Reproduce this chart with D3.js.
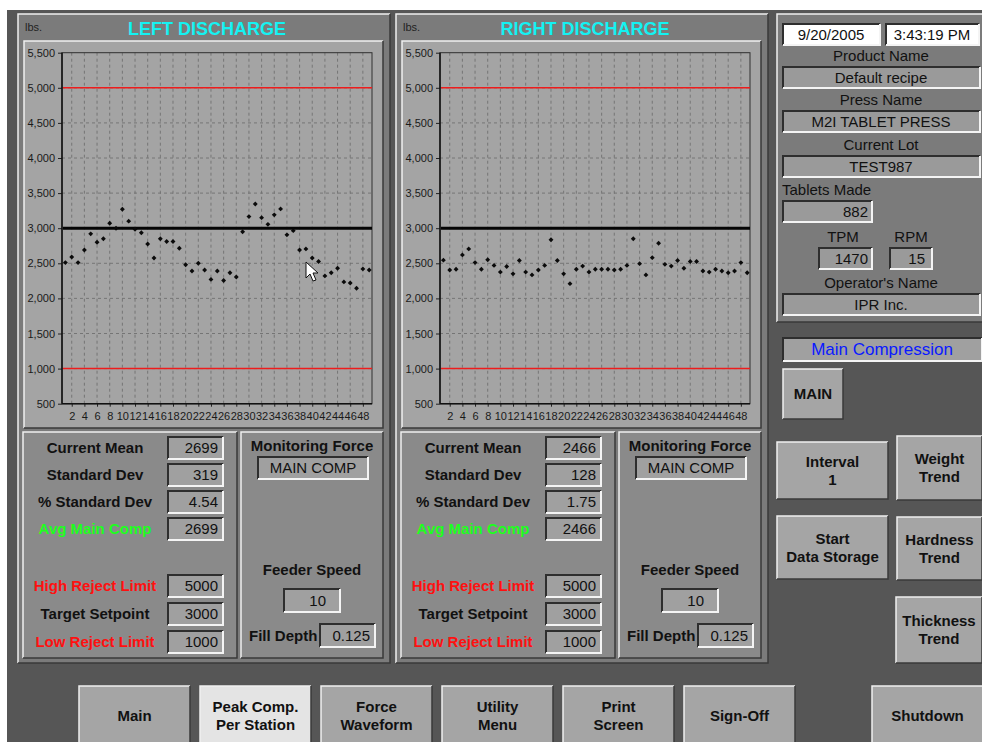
<!DOCTYPE html>
<html>
<head>
<meta charset="utf-8">
<script src="https://cdn.jsdelivr.net/npm/d3@7"></script>
<style>
  body { margin: 0; background: #ffffff; }
  svg text { font-family: "Liberation Sans", Arial, sans-serif; }
</style>
</head>
<body>
<div id="chart"></div>
<script>
// DATA
const stations = [1, 2, 3, 4, 5, 6, 7, 8, 9, 10, 11, 12, 13, 14, 15, 16, 17, 18, 19, 20,
    21, 22, 23, 24, 25, 26, 27, 28, 29, 30, 31, 32, 33, 34, 35, 36, 37, 38, 39, 40,
    41, 42, 43, 44, 45, 46, 47, 48, 49];

const leftForce = [2510, 2590, 2510, 2690, 2920, 2800, 2850, 3070, 3000, 3270,
    3100, 2985, 2935, 2775, 2575, 2850, 2810, 2810, 2715, 2480,
    2390, 2500, 2405, 2270, 2390, 2255, 2365, 2305, 2950, 3165,
    3345, 3150, 3055, 3190, 3275, 2905, 2965, 2690, 2705, 2575,
    2525, 2320, 2365, 2430, 2235, 2220, 2145, 2420, 2405];

const rightForce = [2545, 2405, 2415, 2620, 2705, 2510, 2415, 2550, 2470, 2375,
    2455, 2350, 2540, 2375, 2335, 2405, 2470, 2835, 2540, 2350,
    2210, 2415, 2460, 2375, 2415, 2415, 2415, 2405, 2415, 2470,
    2850, 2495, 2335, 2580, 2785, 2485, 2460, 2540, 2430, 2525,
    2525, 2390, 2375, 2415, 2390, 2365, 2390, 2510, 2365];

const xTickLabels = [2, 4, 6, 8, 10, 12, 14, 16, 18, 20, 22, 24, 26, 28, 30, 32, 34, 36, 38, 40, 42, 44, 46, 48];
const yTickLabels = [500, 1000, 1500, 2000, 2500, 3000, 3500, 4000, 4500, 5000, 5500];

const highReject = 5000;
const targetSetpoint = 3000;
const lowReject = 1000;

const statLabels = ["Current Mean", "Standard Dev", "% Standard Dev", "Avg Main Comp", "High Reject Limit", "Target Setpoint", "Low Reject Limit"];
const statColors = ["#111", "#111", "#111", "#1dff1d", "#ff1010", "#111", "#ff1010"];
const leftStats = ["2699", "319", "4.54", "2699", "5000", "3000", "1000"];
const rightStats = ["2466", "128", "1.75", "2466", "5000", "3000", "1000"];

const infoLabels = ["Product Name", "Press Name", "Current Lot"];
const infoValues = ["Default recipe", "M2I TABLET PRESS", "TEST987"];

const navButtons = [["Main"], ["Peak Comp.", "Per Station"], ["Force", "Waveform"], ["Utility", "Menu"], ["Print", "Screen"], ["Sign-Off"]];

// COLORS
const bgColor = '#565656';
const panelColor = '#7b7b7b';
const plotColor = '#a4a4a4';
const statPanelColor = '#8a8a8a';
const fieldColor = '#a0a0a0';
const buttonColor = '#a5a5a5';

const svg = d3.select('#chart').append('svg')
    .attr('width', 982)
    .attr('height', 742);

svg.append('rect')
    .attr('x', 7).attr('y', 10)
    .attr('width', 975).attr('height', 732)
    .attr('fill', bgColor);

// raised or sunken box
function bevel(g, x, y, w, h, fill, sunken, bw) {
    bw = bw || 2;
    const light = sunken ? '#2e2e2e' : '#f0f0f0';
    const dark = sunken ? '#f4f4f4' : '#3a3a3a';
    g.append('rect')
        .attr('x', x).attr('y', y)
        .attr('width', w).attr('height', h)
        .attr('fill', fill);
    g.append('path')
        .attr('d', `M${x},${y + h}V${y}H${x + w}`)
        .attr('fill', 'none')
        .attr('stroke', light)
        .attr('stroke-width', bw);
    g.append('path')
        .attr('d', `M${x + w},${y}V${y + h}H${x}`)
        .attr('fill', 'none')
        .attr('stroke', dark)
        .attr('stroke-width', bw);
}

function label(g, x, y, txt, size, anchor, color, weight) {
    return g.append('text')
        .attr('x', x).attr('y', y)
        .attr('text-anchor', anchor || 'middle')
        .style('font-size', size + 'px')
        .style('font-weight', weight || 'normal')
        .attr('fill', color || '#111')
        .text(txt);
}

function drawDischarge(offset, title, values, stats) {
    const g = svg.append('g').attr('transform', `translate(${offset},0)`);

    bevel(g, 18, 14, 372, 649, panelColor, false, 1.5);
    label(g, 25, 31, 'lbs.', 11, 'start', '#222');
    label(g, 207, 35, title, 18, 'middle', '#14f2f2', 'bold');

    bevel(g, 24, 41, 359, 387, plotColor, false, 1.5);

    const x = d3.scaleLinear().domain([1, 49]).range([65.4, 369.2]);
    const y = d3.scaleLinear().domain([500, 5500]).range([403.7, 52.7]);
    const plotLeft = 62, plotRight = 372;

    // grid
    g.append('g').selectAll('line.v')
        .data(xTickLabels)
        .enter().append('line')
        .attr('x1', d => x(d)).attr('x2', d => x(d))
        .attr('y1', y(5500)).attr('y2', y(500))
        .attr('stroke', '#6a6a6a')
        .attr('stroke-width', 0.8)
        .attr('stroke-dasharray', '3,3');

    g.append('g').selectAll('line.h')
        .data(yTickLabels.slice(1, -1))
        .enter().append('line')
        .attr('x1', plotLeft).attr('x2', plotRight)
        .attr('y1', d => y(d)).attr('y2', d => y(d))
        .attr('stroke', '#6a6a6a')
        .attr('stroke-width', 0.8)
        .attr('stroke-dasharray', '3,3');

    // frame
    g.append('rect')
        .attr('x', plotLeft).attr('y', y(5500))
        .attr('width', plotRight - plotLeft).attr('height', y(500) - y(5500))
        .attr('fill', 'none')
        .attr('stroke', '#303030')
        .attr('stroke-width', 1);

    // axes
    const yAxis = g.append('g')
        .attr('transform', `translate(${plotLeft},0)`)
        .call(d3.axisLeft(y).tickValues(yTickLabels).tickFormat(d3.format(',')).tickSize(4).tickSizeOuter(0));
    const xAxis = g.append('g')
        .attr('transform', `translate(0,${y(500)})`)
        .call(d3.axisBottom(x).tickValues(xTickLabels).tickFormat(d3.format('d')).tickSize(3).tickSizeOuter(0));

    [yAxis, xAxis].forEach(a => {
        a.select('.domain').remove();
        a.selectAll('line').attr('stroke', '#222');
        a.selectAll('text')
            .style('font-size', '11px')
            .style('font-family', '"Liberation Sans", Arial, sans-serif')
            .attr('fill', '#1a1a1a');
    });
    xAxis.selectAll('text').attr('dy', '0.9em');
    g.append('line')
        .attr('x1', plotLeft).attr('x2', plotLeft)
        .attr('y1', y(5500)).attr('y2', y(500))
        .attr('stroke', '#111').attr('stroke-width', 1.5);
    g.append('line')
        .attr('x1', plotLeft).attr('x2', plotRight)
        .attr('y1', y(500)).attr('y2', y(500))
        .attr('stroke', '#111').attr('stroke-width', 1.5);

    // limits
    [highReject, lowReject].forEach(v => {
        g.append('line')
            .attr('x1', plotLeft + 1).attr('x2', plotRight)
            .attr('y1', y(v)).attr('y2', y(v))
            .attr('stroke', '#ee1c1c')
            .attr('stroke-width', 1.5);
    });
    g.append('line')
        .attr('x1', plotLeft + 1).attr('x2', plotRight)
        .attr('y1', y(targetSetpoint)).attr('y2', y(targetSetpoint))
        .attr('stroke', '#050505')
        .attr('stroke-width', 3);

    // points
    const diamond = d3.symbol().type(d3.symbolDiamond2).size(15);
    g.append('g').selectAll('path.pt')
        .data(values)
        .enter().append('path')
        .attr('d', diamond)
        .attr('transform', (d, i) => `translate(${x(stations[i])},${y(d)})`)
        .attr('fill', '#0a0a0a');

    // stats panel
    bevel(g, 23, 432, 214, 226, statPanelColor, false, 1.5);
    const rowY = [448, 475, 502, 529, 586, 614, 642];
    statLabels.forEach((s, i) => {
        label(g, 95, rowY[i] + 5, s, 15, 'middle', statColors[i], 'bold');
        bevel(g, 168, rowY[i] - 11, 55, 22, fieldColor, true, 2);
        label(g, 218, rowY[i] + 5, stats[i], 15, 'end', '#111');
    });

    // monitoring panel
    bevel(g, 241, 432, 142, 226, statPanelColor, false, 1.5);
    label(g, 312, 451, 'Monitoring Force', 15, 'middle', '#111', 'bold');
    bevel(g, 258, 457, 110, 22, fieldColor, true, 2);
    label(g, 313, 473, 'MAIN COMP', 15, 'middle', '#111');
    label(g, 312, 575, 'Feeder Speed', 15, 'middle', '#111', 'bold');
    bevel(g, 284, 589, 56, 23, fieldColor, true, 2);
    label(g, 326, 606, '10', 15, 'end', '#111');
    label(g, 249, 641, 'Fill Depth', 15, 'start', '#111', 'bold');
    bevel(g, 320, 624, 55, 23, fieldColor, true, 2);
    label(g, 370, 641, '0.125', 15, 'end', '#111');

    return g;
}

const leftG = drawDischarge(0, 'LEFT DISCHARGE', leftForce, leftStats);
drawDischarge(378, 'RIGHT DISCHARGE', rightForce, rightStats);

// mouse cursor on the left chart
leftG.append('path')
    .attr('d', 'M306,262 L306,278 L310,274 L313,281 L316,280 L313,273 L318,273 Z')
    .attr('fill', '#ffffff')
    .attr('stroke', '#111')
    .attr('stroke-width', 1);

// INFO PANEL
const info = svg.append('g');
bevel(info, 777, 14, 206, 308, panelColor, false, 1.5);
bevel(info, 783, 24, 97, 21, '#ffffff', true, 2);
label(info, 831, 40, '9/20/2005', 15, 'middle', '#111');
bevel(info, 886, 24, 93, 21, '#ffffff', true, 2);
label(info, 932, 40, '3:43:19 PM', 15, 'middle', '#111');

const infoY = [56, 100, 145];
infoLabels.forEach((s, i) => {
    label(info, 881, infoY[i] + 5, s, 15, 'middle', '#111');
    bevel(info, 783, infoY[i] + 11, 197, 21, '#9a9a9a', true, 2);
    label(info, 881, infoY[i] + 27, infoValues[i], 15, 'middle', '#111');
});
label(info, 782, 195, 'Tablets Made', 15, 'start', '#111');
bevel(info, 783, 201, 89, 21, '#9a9a9a', true, 2);
label(info, 868, 217, '882', 15, 'end', '#111');
label(info, 843, 242, 'TPM', 15, 'middle', '#111');
label(info, 911, 242, 'RPM', 15, 'middle', '#111');
bevel(info, 819, 248, 53, 21, '#9a9a9a', true, 2);
label(info, 868, 264, '1470', 15, 'end', '#111');
bevel(info, 890, 248, 42, 21, '#9a9a9a', true, 2);
label(info, 925, 264, '15', 15, 'end', '#111');
label(info, 881, 288, "Operator's Name", 15, 'middle', '#111');
bevel(info, 783, 294, 197, 21, '#9a9a9a', true, 2);
label(info, 881, 310, 'IPR Inc.', 15, 'middle', '#111');

// SIDE CONTROLS
const side = svg.append('g');
bevel(side, 783, 338, 199, 23, '#a0a0a0', true, 2);
label(side, 882, 355, 'Main Compression', 17, 'middle', '#0a1aff');

function button(g, x0, y0, w, h, lines, fill) {
    bevel(g, x0, y0, w, h, fill || buttonColor, false, 1.5);
    const cx = x0 + w / 2;
    const cy = y0 + h / 2;
    lines.forEach((t, i) => {
        label(g, cx, cy + 5 + (i - (lines.length - 1) / 2) * 18, t, 15, 'middle', '#111', 'bold');
    });
}

button(side, 783, 369, 60, 50, ['MAIN']);
button(side, 777, 442, 111, 57, ['Interval', '1']);
button(side, 897, 436, 85, 64, ['Weight', 'Trend']);
button(side, 777, 516, 111, 63, ['Start', 'Data Storage']);
button(side, 897, 517, 85, 63, ['Hardness', 'Trend']);
button(side, 896, 597, 86, 66, ['Thickness', 'Trend']);

// BOTTOM NAV
const nav = svg.append('g');
const navX = d3.scaleLinear().domain([0, 1]).range([79, 200]);
navButtons.forEach((lines, i) => {
    button(nav, navX(i), 686, 111, 60, lines, i === 1 ? '#e4e4e4' : buttonColor);
});
button(nav, 872, 686, 111, 60, ['Shutdown']);
</script>
</body>
</html>
